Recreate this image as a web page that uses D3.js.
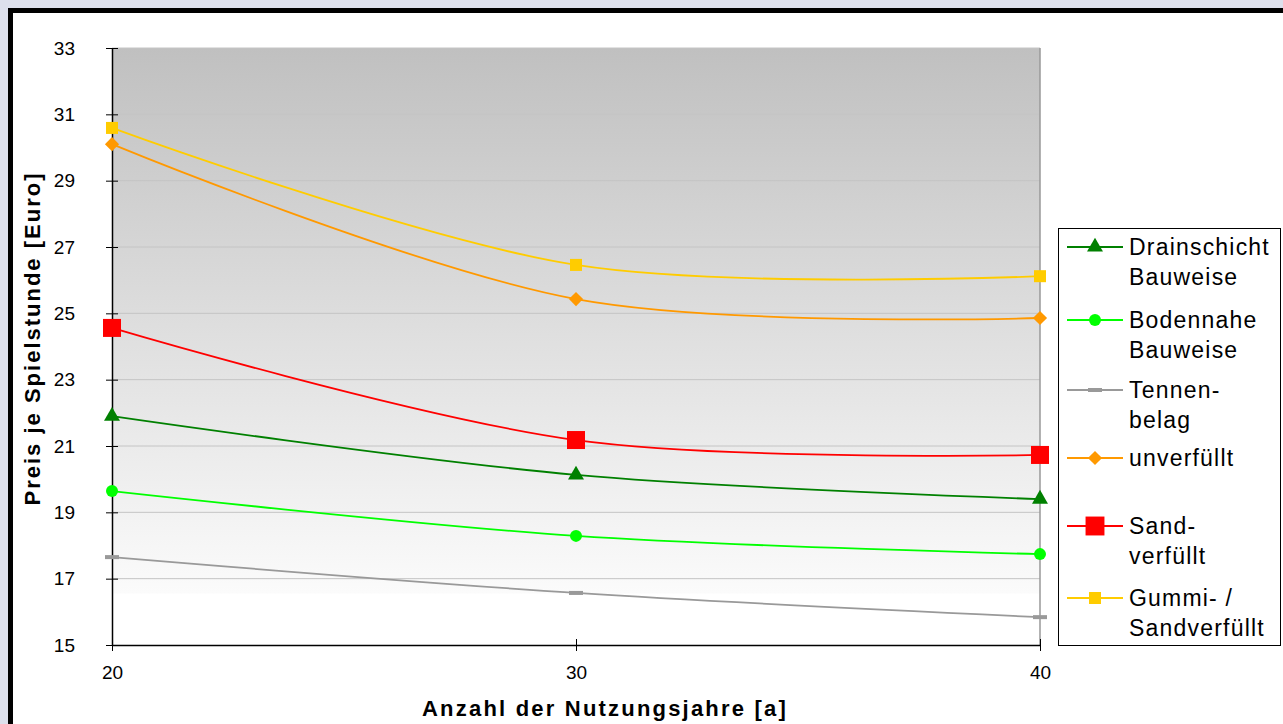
<!DOCTYPE html>
<html>
<head>
<meta charset="utf-8">
<script src="https://cdnjs.cloudflare.com/ajax/libs/d3/7.8.5/d3.min.js"></script>
<style>
  body { margin: 0; background: #dde0ec; }
  svg { display: block; font-family: "Liberation Sans", Arial, sans-serif; }
</style>
</head>
<body>
<svg width="1283" height="724"></svg>
<script>
  // Nutzungsjahre (x) und Preis je Spielstunde (y)
  const years = [20, 30, 40];
  const yTicks = [15, 17, 19, 21, 23, 25, 27, 29, 31, 33];

  const drainschicht = [21.9, 20.13, 19.4];
  const bodennahe = [19.64, 18.29, 17.74];
  const tennen = [17.65, 16.57, 15.84];
  const unverfuellt = [30.1, 25.43, 24.86];
  const sandverfuellt = [24.56, 21.18, 20.73];
  const gummiSand = [30.59, 26.46, 26.12];

  const series = [
    { name: ['Drainschicht', 'Bauweise'], values: drainschicht, color: '#008000', marker: 'triangle' },
    { name: ['Bodennahe', 'Bauweise'], values: bodennahe, color: '#00ff00', marker: 'circle' },
    { name: ['Tennen-', 'belag'], values: tennen, color: '#999999', marker: 'dash' },
    { name: ['unverfüllt'], values: unverfuellt, color: '#ff9900', marker: 'diamond' },
    { name: ['Sand-', 'verfüllt'], values: sandverfuellt, color: '#ff0000', marker: 'bigsquare' },
    { name: ['Gummi- /', 'Sandverfüllt'], values: gummiSand, color: '#ffcc00', marker: 'square' }
  ];

  const svg = d3.select('svg');

  // äußerer Rahmen
  svg.append('rect')
    .attr('x', 10.5).attr('y', 10.5)
    .attr('width', 1300).attr('height', 750)
    .attr('fill', '#fff')
    .attr('stroke', '#000')
    .attr('stroke-width', 5);

  const plot = { left: 112, right: 1040, top: 48, bottom: 645 };

  const x = d3.scaleLinear().domain([20, 40]).range([plot.left, plot.right]);
  const y = d3.scaleLinear().domain([15, 33]).range([plot.bottom, plot.top]);

  // Hintergrund-Verlauf
  const defs = svg.append('defs');
  const grad = defs.append('linearGradient')
    .attr('id', 'bg').attr('x1', 0).attr('y1', 0).attr('x2', 0).attr('y2', 1);
  grad.append('stop').attr('offset', '0%').attr('stop-color', '#c0c0c0');
  grad.append('stop').attr('offset', '100%').attr('stop-color', '#fbfbfb');

  svg.append('rect')
    .attr('x', plot.left).attr('y', plot.top)
    .attr('width', plot.right - plot.left)
    .attr('height', y(16.55) - plot.top)
    .attr('fill', 'url(#bg)');

  // Gitterlinien
  svg.append('g')
    .selectAll('line')
    .data(yTicks.slice(1))
    .join('line')
      .attr('x1', plot.left).attr('x2', plot.right)
      .attr('y1', d => y(d)).attr('y2', d => y(d))
      .attr('stroke', '#c4c4c4')
      .attr('stroke-width', 1);

  // rechter Rand
  svg.append('line')
    .attr('x1', plot.right).attr('x2', plot.right)
    .attr('y1', plot.top).attr('y2', plot.bottom)
    .attr('stroke', '#999').attr('stroke-width', 1.5);

  // Achsen
  const yAxis = svg.append('g')
    .attr('transform', `translate(${plot.left},0)`)
    .call(d3.axisLeft(y).tickValues(yTicks).tickSize(6).tickSizeOuter(0).tickPadding(31));
  yAxis.selectAll('.tick line').attr('x2', 6).attr('x1', -6).attr('stroke', '#000');
  yAxis.select('.domain').attr('stroke', '#000').attr('stroke-width', 1.5);
  yAxis.selectAll('text').attr('font-size', 19).attr('fill', '#000')
    .attr('font-family', '"Liberation Sans", Arial, sans-serif');

  const xAxis = svg.append('g')
    .attr('transform', `translate(0,${plot.bottom})`)
    .call(d3.axisBottom(x).tickValues(years).tickSize(6).tickSizeOuter(0).tickPadding(15));
  xAxis.selectAll('.tick line').attr('y1', -6).attr('y2', 6).attr('stroke', '#000');
  xAxis.select('.domain').attr('stroke', '#000').attr('stroke-width', 1.5);
  xAxis.selectAll('text').attr('font-size', 19).attr('fill', '#000')
    .attr('font-family', '"Liberation Sans", Arial, sans-serif');

  // Achsentitel
  svg.append('text')
    .attr('transform', `translate(40,${(plot.top + plot.bottom) / 2 - 8}) rotate(-90)`)
    .attr('text-anchor', 'middle')
    .attr('font-size', 22).attr('font-weight', 'bold')
    .attr('letter-spacing', 2)
    .text('Preis je Spielstunde [Euro]');

  svg.append('text')
    .attr('x', 605).attr('y', 716)
    .attr('text-anchor', 'middle')
    .attr('font-size', 22).attr('font-weight', 'bold')
    .attr('letter-spacing', 2.2)
    .text('Anzahl der Nutzungsjahre [a]');

  // Marker-Zeichnung
  const drawMarker = (sel, s, scale) => {
    const k = scale || 1;
    if (s.marker === 'triangle') {
      sel.append('path').attr('d', d3.symbol(d3.symbolTriangle, 110 * k * k)()).attr('fill', s.color);
    } else if (s.marker === 'circle') {
      sel.append('circle').attr('r', 6 * k).attr('fill', s.color);
    } else if (s.marker === 'dash') {
      sel.append('rect').attr('x', -7 * k).attr('y', -2).attr('width', 14 * k).attr('height', 4).attr('fill', s.color);
    } else if (s.marker === 'diamond') {
      sel.append('path').attr('d', d3.symbol(d3.symbolSquare, 100 * k * k)()).attr('transform', 'rotate(45)').attr('fill', s.color);
    } else if (s.marker === 'bigsquare') {
      sel.append('rect').attr('x', -9 * k).attr('y', -9 * k).attr('width', 18 * k).attr('height', 18 * k).attr('fill', s.color);
    } else if (s.marker === 'square') {
      sel.append('rect').attr('x', -6 * k).attr('y', -6 * k).attr('width', 12 * k).attr('height', 12 * k).attr('fill', s.color);
    }
  };

  const line = d3.line()
    .x((d, i) => x(years[i]))
    .y(d => y(d))
    .curve(d3.curveCatmullRom.alpha(0.5));

  const drawOrder = [2, 1, 0, 4, 3, 5];
  drawOrder.forEach(idx => {
    const s = series[idx];
    svg.append('path')
      .datum(s.values)
      .attr('d', line)
      .attr('fill', 'none')
      .attr('stroke', s.color)
      .attr('stroke-width', 1.8);
    svg.append('g')
      .selectAll('g')
      .data(s.values)
      .join('g')
        .attr('transform', (d, i) => `translate(${x(years[i])},${y(d)})`)
        .each(function () { drawMarker(d3.select(this), s, 1); });
  });

  // Legende
  const legend = svg.append('g');
  legend.append('rect')
    .attr('x', 1058.5).attr('y', 228.5)
    .attr('width', 222).attr('height', 417)
    .attr('fill', '#fff')
    .attr('stroke', '#000').attr('stroke-width', 1);

  const legendY = [247, 320, 390, 458, 526, 598];
  series.forEach((s, i) => {
    const g = legend.append('g').attr('transform', `translate(0,${legendY[i]})`);
    g.append('line')
      .attr('x1', 1067).attr('x2', 1123)
      .attr('y1', 0).attr('y2', 0)
      .attr('stroke', s.color).attr('stroke-width', 1.8);
    const m = g.append('g').attr('transform', 'translate(1095,0)');
    drawMarker(m, s, s.marker === 'bigsquare' ? 1.05 : 1);
    s.name.forEach((t, j) => {
      g.append('text')
        .attr('x', 1129).attr('y', 8 + j * 30)
        .attr('font-size', 23)
        .attr('letter-spacing', 1.2)
        .attr('fill', '#000')
        .text(t);
    });
  });
</script>
</body>
</html>
